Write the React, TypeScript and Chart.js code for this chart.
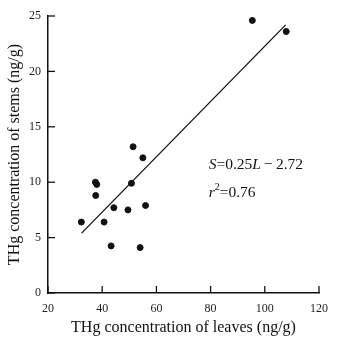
import React, { useEffect, useRef } from "react";
import { Chart, registerables } from "chart.js";

Chart.register(...registerables);

const leavesTHg = [32.3, 37.5, 38.0, 37.6, 40.7, 44.3, 43.3, 49.5, 50.8, 51.4, 55.0, 56.0, 54.0, 95.4, 107.9];
const stemsTHg = [6.4, 10.0, 9.8, 8.8, 6.4, 7.7, 4.25, 7.5, 9.9, 13.2, 12.2, 7.9, 4.1, 24.6, 23.6];
const fitLeaves = [32.4, 107.7];
const fitStems = [5.4, 24.2];
const xTicks = [20, 40, 60, 80, 100, 120];
const yTicks = [0, 5, 10, 15, 20, 25];

const SERIF = "'Liberation Serif', 'Times New Roman', serif";

const inwardTicks = {
  id: "inwardTicks",
  afterDraw(chart: any) {
    const { ctx, chartArea, scales } = chart;
    ctx.save();
    ctx.strokeStyle = "#111";
    ctx.lineWidth = 1.3;
    for (const v of xTicks) {
      const px = scales.x.getPixelForValue(v);
      ctx.beginPath();
      ctx.moveTo(px, chartArea.bottom);
      ctx.lineTo(px, chartArea.bottom - 7);
      ctx.stroke();
    }
    for (const v of yTicks) {
      const py = scales.y.getPixelForValue(v);
      ctx.beginPath();
      ctx.moveTo(chartArea.left, py);
      ctx.lineTo(chartArea.left + 7, py);
      ctx.stroke();
    }
    // equation annotation
    const ax = scales.x.getPixelForValue(79.3);
    const ay1 = scales.y.getPixelForValue(11.6);
    const ay2 = scales.y.getPixelForValue(9.05);
    ctx.fillStyle = "#111";
    ctx.textBaseline = "middle";
    ctx.textAlign = "left";
    const parts: [string, boolean][] = [["S", true], ["=0.25", false], ["L", true], ["\u2009\u2212\u20092.72", false]];
    let x = ax;
    for (const [t, it] of parts) {
      ctx.font = `${it ? "italic " : ""}15.5px ${SERIF}`;
      ctx.fillText(t, x, ay1);
      x += ctx.measureText(t).width;
    }
    x = ax;
    ctx.font = `italic 15.5px ${SERIF}`;
    ctx.fillText("r", x, ay2);
    x += ctx.measureText("r").width;
    ctx.font = `10px ${SERIF}`;
    ctx.fillText("2", x, ay2 - 5);
    x += ctx.measureText("2").width;
    ctx.font = `15.5px ${SERIF}`;
    ctx.fillText("=0.76", x, ay2);
    ctx.restore();
  },
};

export default function App() {
  const ref = useRef<HTMLCanvasElement>(null);
  useEffect(() => {
    if (!ref.current) return;
    const chart = new Chart(ref.current, {
      type: "scatter",
      data: {
        datasets: [
          {
            type: "scatter",
            data: leavesTHg.map((v, i) => ({ x: v, y: stemsTHg[i] })),
            backgroundColor: "#111",
            borderColor: "#111",
            pointRadius: 3,
          },
          {
            type: "line",
            data: fitLeaves.map((v, i) => ({ x: v, y: fitStems[i] })),
            borderColor: "#111",
            borderWidth: 1.3,
            pointRadius: 0,
            fill: false,
          } as any,
        ],
      },
      plugins: [inwardTicks],
      options: {
        animation: false,
        responsive: false,
        layout: { padding: { left: 0, right: 9, top: 16, bottom: 0 } },
        plugins: { legend: { display: false }, tooltip: { enabled: false } },
        scales: {
          x: {
            type: "linear",
            min: 20,
            max: 120,
            afterBuildTicks: (s: any) => { s.ticks = xTicks.map((v) => ({ value: v })); },
            afterFit: (s: any) => { s.height = 44; },
            grid: { display: true, drawOnChartArea: false, drawTicks: false },
            border: { display: true, color: "#111", width: 1.5 },
            ticks: { color: "#222", font: { family: SERIF, size: 12 }, padding: 9 },
            title: { display: true, text: "THg concentration of leaves (ng/g)", color: "#111", font: { family: SERIF, size: 16 }, padding: { top: 2, bottom: 0 } },
          },
          y: {
            type: "linear",
            min: 0,
            max: 25,
            afterBuildTicks: (s: any) => { s.ticks = yTicks.map((v) => ({ value: v })); },
            afterFit: (s: any) => { s.width = 48; },
            grid: { display: true, drawOnChartArea: false, drawTicks: false },
            border: { display: true, color: "#111", width: 1.5 },
            ticks: { color: "#222", font: { family: SERIF, size: 12 }, padding: 7 },
            title: { display: true, text: "THg concentration of stems (ng/g)", color: "#111", font: { family: SERIF, size: 16 }, padding: { top: 5, bottom: 4 } },
          },
        },
      },
    });
    return () => chart.destroy();
  }, []);
  return (
    <div style={{ position: "fixed", left: 0, top: 0, width: 337, height: 337, background: "#fff" }}>
      <canvas ref={ref} width={337} height={337} style={{ width: 337, height: 337 }} />
    </div>
  );
}
